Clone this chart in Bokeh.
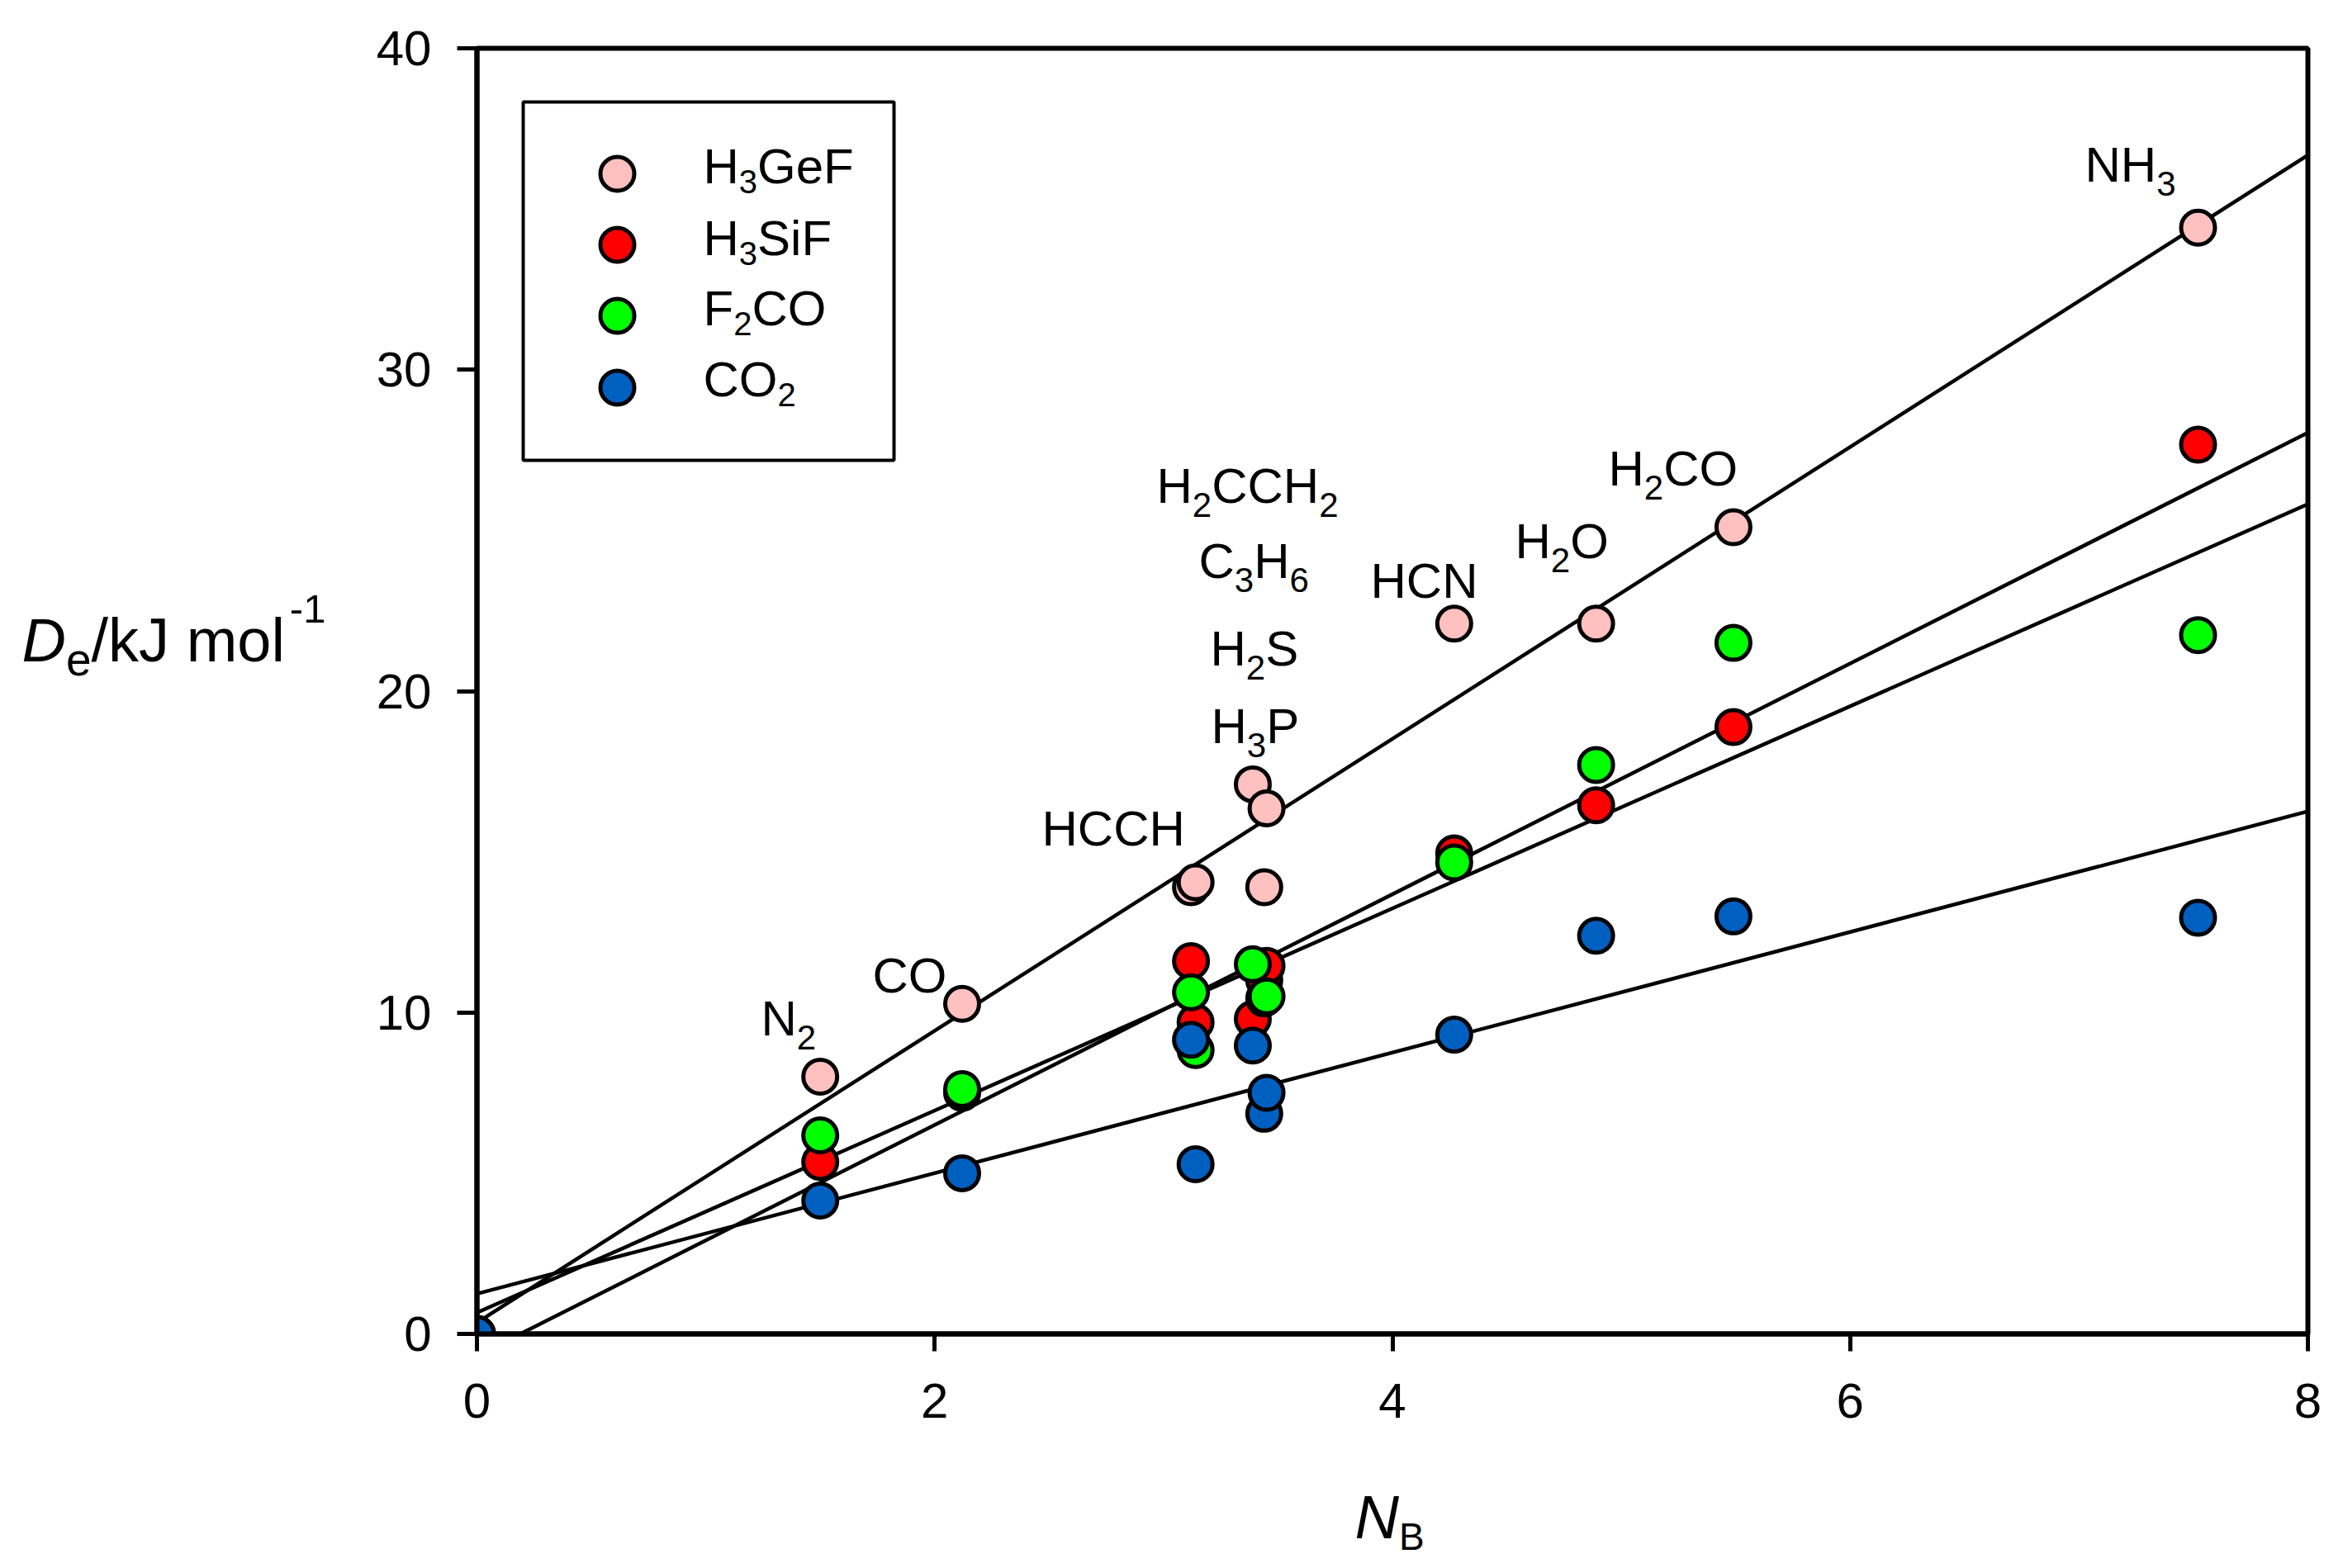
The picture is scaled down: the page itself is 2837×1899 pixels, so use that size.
from bokeh.plotting import figure
from bokeh.models import Range1d, FixedTicker, Label, BoxAnnotation
from bokeh.embed import file_html
from bokeh.resources import INLINE

# ---------------- data ----------------
NB = [0.00, 1.50, 2.12, 3.12, 3.14, 3.39, 3.44, 3.45, 4.27, 4.89, 5.49, 7.52]
H3GeF = [0.0, 8.0, 10.27, 13.9, 14.05, 17.1, 13.9, 16.35, 22.1, 22.1, 25.1, 34.42]
H3SiF = [0.0, 5.35, 7.5, 11.6, 9.7, 9.8, 11.0, 11.45, 14.95, 16.45, 18.88, 27.67]
F2CO = [0.0, 6.18, 7.62, 10.63, 8.83, 11.5, 10.44, 10.5, 14.67, 17.7, 21.5, 21.74]
CO2 = [0.0, 4.15, 5.0, 9.15, 5.28, 8.97, 6.85, 7.5, 9.31, 12.39, 12.99, 12.95]

SERIES = ["H3GeF", "H3SiF", "F2CO", "CO2"]
COLORS = ["#FFC0C0", "#FF0000", "#00FF00", "#0060C0"]
VALUES = [H3GeF, H3SiF, F2CO, CO2]
# linear fits: intercept, slope
FIT_INTERCEPT = [0.35, -0.68, 0.66, 1.25]
FIT_SLOPE = [4.541, 3.59, 3.145, 1.876]

X_TICKS = [0, 2, 4, 6, 8]
Y_TICKS = [0, 10, 20, 30, 40]
X_START, X_END = 0, 8
Y_START, Y_END = 0, 40

MOLECULES = ["N2", "CO", "HCCH", "H2CCH2", "C3H6", "H2S", "H3P", "HCN", "H2O", "H2CO", "NH3"]

# ---------------- layout (page pixels) ----------------
FONT = "Liberation Sans"
FRAME_L, FRAME_R, FRAME_T, FRAME_B = 577, 2794, 58, 1615
W, H = 2835, 1897
BASE_FIX = -20  # correction of the text anchor to the alphabetic baseline

ARIAL = {' ': 278, '-': 333, '/': 278, 'B': 667, 'C': 722, 'D': 722, 'F': 611,
         'G': 778, 'H': 722, 'J': 500, 'N': 722, 'O': 778, 'P': 667, 'S': 667,
         'e': 556, 'i': 222, 'k': 500, 'l': 222, 'm': 833, 'o': 556}


def adv(s, size):
    return sum(ARIAL.get(c, 556) for c in s) * size / 1000.0


def px2x(px):
    return X_START + (px - FRAME_L) / (FRAME_R - FRAME_L) * (X_END - X_START)


def py2y(py):
    return Y_START + (FRAME_B - py) / (FRAME_B - FRAME_T) * (Y_END - Y_START)


p = figure(width=W, height=H, x_range=Range1d(X_START, X_END), y_range=Range1d(Y_START, Y_END),
           output_backend="svg", toolbar_location=None,
           min_border_left=FRAME_L, min_border_top=FRAME_T,
           min_border_right=W - FRAME_R, min_border_bottom=H - FRAME_B,
           background_fill_color="white", border_fill_color="white")
p.grid.visible = False
p.outline_line_color = "black"
p.outline_line_width = 6
p.outline_line_alpha = 1.0

for ax, ticks, tout in ((p.xaxis, X_TICKS, 21), (p.yaxis, Y_TICKS, 24)):
    ax.ticker = FixedTicker(ticks=ticks)
    ax.major_tick_in = 0
    ax.major_tick_out = tout
    ax.minor_tick_line_color = None
    ax.axis_line_width = 6
    ax.major_tick_line_width = 5
    ax.major_label_text_font = FONT
    ax.major_label_text_font_size = "60px"
    ax.major_label_text_color = "black"
    ax.axis_label = None
p.xaxis.major_label_standoff = 39
p.yaxis.major_label_standoff = 31

# ---------------- fit lines ----------------
for b, m in zip(FIT_INTERCEPT, FIT_SLOPE):
    xs = [X_START, X_END]
    ys = [b + m * x for x in xs]
    p.line(xs, ys, line_color="black", line_width=4.5)

# ---------------- points ----------------
for vals, col in zip(VALUES, COLORS):
    p.scatter(NB, vals, size=41, fill_color=col, line_color="black", line_width=5)

# ---------------- text helpers ----------------
def place(x0, base, segs, side=None):
    x = x0
    for t, size, dy, style, gap in segs:
        x += gap
        lab = Label(x=px2x(x), y=py2y(base + dy + BASE_FIX), text=t, text_font=FONT,
                    text_font_size=f"{size}px", text_font_style=style,
                    text_align="left", text_baseline="alphabetic", text_color="black")
        if side is None:
            p.add_layout(lab)
        else:
            p.add_layout(lab, side)
        x += adv(t, size)


def chem(x0, base, formula, size=60, sub=42, drop=23):
    segs = []
    buf = ""
    for c in formula:
        if c.isdigit():
            if buf:
                segs.append((buf, size, 0, "normal", 0))
                buf = ""
            segs.append((c, sub, drop, "normal", 0))
        else:
            buf += c
    if buf:
        segs.append((buf, size, 0, "normal", 0))
    place(x0, base, segs)


# molecule annotations (left origin, baseline) in page pixels
MOL_POS = [(921, 1253), (1056, 1201), (1261, 1023), (1400, 608), (1451, 699),
           (1465, 805), (1466, 899), (1659, 723), (1834, 675), (1947, 587), (2524, 219)]
for name, (x0, base) in zip(MOLECULES, MOL_POS):
    chem(x0, base, name)

# ---------------- legend ----------------
p.add_layout(BoxAnnotation(left=px2x(633), right=px2x(1082), top=py2y(123), bottom=py2y(557),
                           fill_color="white", fill_alpha=1.0, line_color="black",
                           line_width=4, line_alpha=1.0, level="underlay"))
LEG_MARK_Y = [210, 296, 382, 469]
LEG_BASE = [221, 308, 393, 479]
p.scatter([px2x(747)] * 4, [py2y(v) for v in LEG_MARK_Y], size=41, fill_color=COLORS,
          line_color="black", line_width=5)
for name, base in zip(SERIES, LEG_BASE):
    chem(851, base, name, size=60, sub=40, drop=18)

# ---------------- axis titles (placed in the side panels so they are not clipped) ----------------
place(26, 795, [("D", 74, 0, "italic", 0), ("e", 55, 23, "normal", 0),
                ("/kJ mol", 74, 0, "normal", 0), ("-1", 49, -38, "normal", 6)], side="left")
place(1640, 1857, [("N", 74, 0, "italic", 0), ("B", 46, 23, "normal", 0)], side="below")

open("out.html", "w").write(file_html(p, INLINE))
